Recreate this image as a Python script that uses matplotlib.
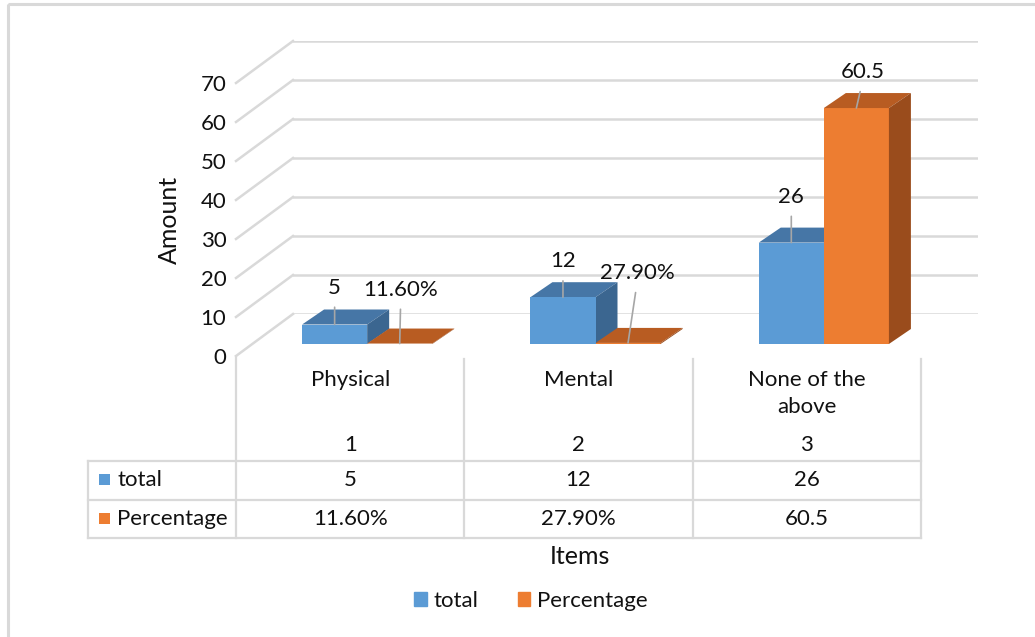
import numpy as np
import matplotlib
matplotlib.use("Agg")
import matplotlib.pyplot as plt
from matplotlib.patches import Polygon, Rectangle, Patch
from matplotlib.transforms import IdentityTransform

plt.rcParams['font.family'] = ['Lato', 'DejaVu Sans']

# data
categories = ["Physical", "Mental", "None of the\nabove"]
item_numbers = [1, 2, 3]
total = [5, 12, 26]
percentage = [0.116, 0.279, 60.5]   # first two were typed as percentages
series_names = ["total", "Percentage"]
y_ticks = [0, 10, 20, 30, 40, 50, 60, 70]


def fmt(v):
    if isinstance(v, float) and v < 1:
        return f"{v:.2%}"
    return f"{v:g}"


BLUE = "#5B9BD5"
BLUE_TOP = "#4676A6"
BLUE_SIDE = "#3B6690"
ORANGE = "#ED7D31"
ORANGE_TOP = "#B85C22"
ORANGE_SIDE = "#9A4C1C"
GRID = "#D9D9D9"
TXT = "#111111"
FS = 16
FS_TITLE = 18

W, H = 1035, 637
fig = plt.figure(figsize=(W / 100, H / 100), dpi=100)
fig.patch.set_facecolor("white")


def px_rect(left, top, width, height):
    return [left / W, 1 - (top + height) / H, width / W, height / H]


PLOT_W = 685
PLOT_H = 70 * 3.9
FRONT_L, FRONT_B = 236, 356
BACK_OFF = (57, -42)
BAR_OFF = (17, -12)
DEPTH = np.array([22, 15])  # bar depth in display px (y up)

# overlay in pixel coordinates for the border and table
ov = fig.add_axes([0, 0, 1, 1], zorder=-1)
ov.set_xlim(0, W)
ov.set_ylim(H, 0)
ov.axis("off")
ov.add_patch(Rectangle((8, 4), W, H, fill=False, ec=GRID, lw=2.2))

ax_back = fig.add_axes(px_rect(FRONT_L + BACK_OFF[0], FRONT_B + BACK_OFF[1] - PLOT_H, PLOT_W, PLOT_H))
ax_front = fig.add_axes(px_rect(FRONT_L, FRONT_B - PLOT_H, PLOT_W, PLOT_H))
ax_bar = fig.add_axes(px_rect(FRONT_L + BAR_OFF[0], FRONT_B + BAR_OFF[1] - PLOT_H, PLOT_W, PLOT_H))

for a in (ax_back, ax_front, ax_bar):
    a.set_xlim(-0.5, 2.5)
    a.set_ylim(0, 70)
    a.set_facecolor("none")
    for s in a.spines.values():
        s.set_visible(False)
    a.set_xticks([])
    a.tick_params(length=0)

# back wall gridlines
ax_back.set_yticks(y_ticks)
ax_back.set_yticklabels([])
ax_back.yaxis.grid(True, color=GRID, lw=1.8)
ax_back.set_axisbelow(True)

# side wall diagonals
for v in y_ticks:
    pb = ax_back.transData.transform((-0.5, v))
    pf = ax_front.transData.transform((-0.5, v))
    ax_back.plot([pb[0], pf[0]], [pb[1], pf[1]], color=GRID, lw=1.8,
                 transform=IdentityTransform(), clip_on=False)

# front axis labels
ax_front.set_yticks(y_ticks)
ax_front.set_yticklabels([str(v) for v in y_ticks], fontsize=FS, color=TXT)
ax_front.tick_params(axis="y", pad=7)
ax_front.set_ylabel("Amount", fontsize=FS_TITLE, color=TXT, labelpad=14)
ax_bar.set_yticks([])

# 3D columns
x = np.arange(len(categories))
w = 0.285
b_total = ax_bar.bar(x - w / 2, total, w, color=BLUE, clip_on=False)
b_pct = ax_bar.bar(x + w / 2, percentage, w, color=ORANGE, clip_on=False)


def add_faces(rect, top_c, side_c, z):
    x0, x1 = rect.get_x(), rect.get_x() + rect.get_width()
    h = rect.get_height()
    tl = ax_bar.transData.transform((x0, h))
    tr = ax_bar.transData.transform((x1, h))
    br = ax_bar.transData.transform((x1, 0))
    top = Polygon([tl, tr, tr + DEPTH, tl + DEPTH], closed=True, fc=top_c, ec="none",
                  transform=IdentityTransform(), clip_on=False, zorder=z)
    side = Polygon([tr, br, br + DEPTH, tr + DEPTH], closed=True, fc=side_c, ec="none",
                   transform=IdentityTransform(), clip_on=False, zorder=z)
    ax_bar.add_patch(top)
    ax_bar.add_patch(side)


for i in range(len(categories)):
    base = 1 + i
    add_faces(b_total[i], BLUE_TOP, BLUE_SIDE, base + 0.1)
    b_total[i].set_zorder(base + 0.2)
    b_pct[i].set_zorder(base + 0.3)
    add_faces(b_pct[i], ORANGE_TOP, ORANGE_SIDE, base + 0.4)

# data labels with leader lines (offsets in px)
total_offsets = [(0, 27), (0, 26), (0, 36)]
pct_offsets = [(1, 44), (9, 60), (6, 26)]
for bars, vals, offs in ((b_total, total, total_offsets), (b_pct, percentage, pct_offsets)):
    for r, v, (dx, dy) in zip(bars, vals, offs):
        xc = r.get_x() + r.get_width() / 2
        ax_bar.annotate(fmt(v), xy=(xc, v), xytext=(dx * 0.72, dy * 0.72),
                        textcoords="offset points", ha="center", va="bottom",
                        fontsize=FS, color=TXT, zorder=10,
                        arrowprops=dict(arrowstyle="-", color="#A6A6A6", lw=1.2,
                                        relpos=(0.5, 0), shrinkA=5, shrinkB=0))

# data table under the chart
col_edges = [ax_front.transData.transform((e, 0))[0] for e in (-0.5, 0.5, 1.5, 2.5)]
col_centers = [ax_front.transData.transform((c, 0))[0] for c in x]
left_edge = 88
row_lines = [461, 500, 538]
for i, e in enumerate(col_edges):
    ov.plot([e, e], [357 if i == 0 else 359, row_lines[-1]], color=GRID, lw=1.6)
for y in row_lines:
    ov.plot([left_edge, col_edges[-1]], [y, y], color=GRID, lw=1.6)
ov.plot([left_edge, left_edge], [row_lines[0], row_lines[-1]], color=GRID, lw=1.6)

for cx, name, n, t, p in zip(col_centers, categories, item_numbers, total, percentage):
    ov.text(cx, 370, name, ha="center", va="top", fontsize=FS, color=TXT, linespacing=1.45)
    ov.text(cx, 445, str(n), ha="center", va="center", fontsize=FS, color=TXT)
    ov.text(cx, 480, fmt(t), ha="center", va="center", fontsize=FS, color=TXT)
    ov.text(cx, 519, fmt(p), ha="center", va="center", fontsize=FS, color=TXT)

for name, col, yc in zip(series_names, (BLUE, ORANGE), (480, 519)):
    ov.add_patch(Rectangle((99, yc - 6), 11, 11, fc=col, ec="none"))
    ov.text(117, yc, name, ha="left", va="center", fontsize=FS, color=TXT)

ov.text((col_edges[0] + col_edges[-1]) / 2 + 1, 556, "Items", ha="center", va="center",
        fontsize=FS_TITLE, color=TXT)

handles = [Patch(color=BLUE, label=series_names[0]), Patch(color=ORANGE, label=series_names[1])]
fig.legend(handles=handles, loc="center", bbox_to_anchor=(531 / W, 1 - 601 / H), ncol=2,
           frameon=False, fontsize=FS, handlelength=0.55, handleheight=0.55,
           handletextpad=0.3, columnspacing=1.8, labelcolor=TXT)

fig.savefig("out.png", dpi=100, facecolor="white")
